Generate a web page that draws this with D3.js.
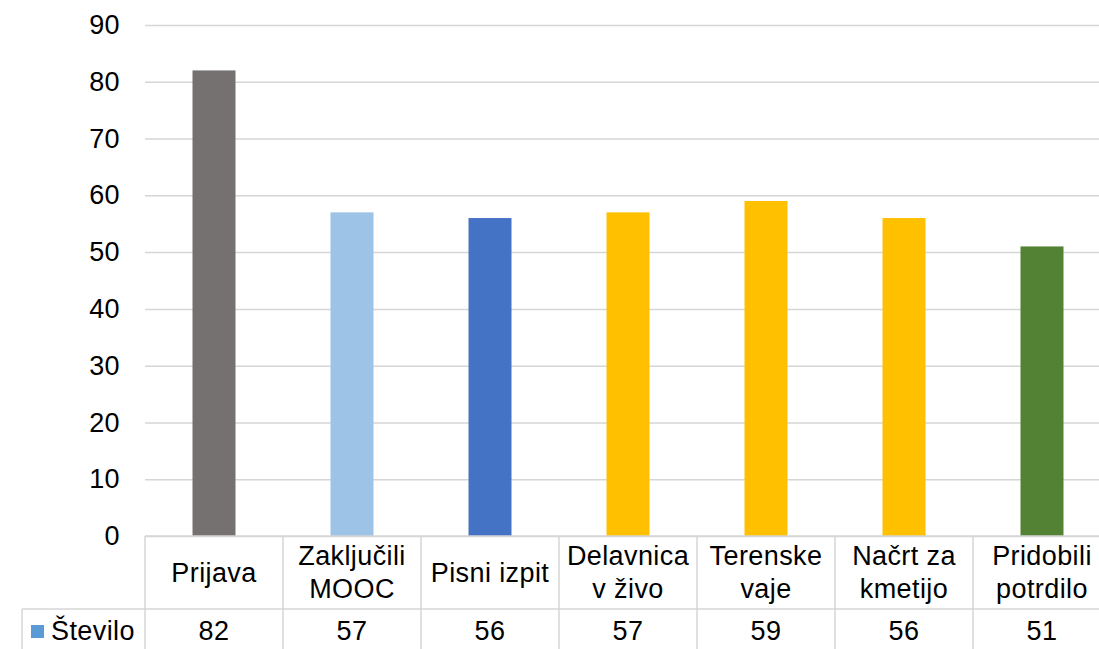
<!DOCTYPE html>
<html>
<head>
<meta charset="utf-8">
<script src="https://cdn.jsdelivr.net/npm/d3@7"></script>
<style>
  html, body { margin: 0; padding: 0; background: #fff; }
  svg { display: block; font-family: "Liberation Sans", Arial, sans-serif; }
</style>
</head>
<body>
<svg id="chart" width="1099" height="649"></svg>
<script>
const categories = ["Prijava", "Zaključili MOOC", "Pisni izpit", "Delavnica v živo", "Terenske vaje", "Načrt za kmetijo", "Pridobili potrdilo"];
const categoryLines = [["Prijava"], ["Zaključili", "MOOC"], ["Pisni izpit"], ["Delavnica", "v živo"], ["Terenske", "vaje"], ["Načrt za", "kmetijo"], ["Pridobili", "potrdilo"]];
const values = [82, 57, 56, 57, 59, 56, 51];
const barColors = ["#767171", "#9DC3E6", "#4472C4", "#FFC000", "#FFC000", "#FFC000", "#548235"];
const seriesName = "Število";
const yTicks = [0, 10, 20, 30, 40, 50, 60, 70, 80, 90];

const svg = d3.select("#chart");
const plotLeft = 145, plotRight = 1111;
const yTop = 25, yZero = 536;
const headerBottom = 609, tableBottom = 660;
const legendLeft = 22;
const gridColor = "#d6d6d6";
const fs = 27;
const ls = "0.4px";

const x = d3.scaleBand().domain(categories).range([plotLeft, plotRight]).paddingInner(0).paddingOuter(0);
const y = d3.scaleLinear().domain([0, 90]).range([yZero, yTop]);

// gridlines
const yAxis = d3.axisLeft(y).tickValues(yTicks).tickSize(-(plotRight - plotLeft)).tickPadding(25).tickFormat(d3.format("d"));
const gy = svg.append("g").attr("transform", `translate(${plotLeft},0)`).call(yAxis);
gy.select(".domain").remove();
gy.selectAll(".tick line").attr("stroke", gridColor).attr("stroke-width", 1.5);
gy.selectAll(".tick text").attr("font-size", fs).attr("fill", "#000").attr("font-family", "Liberation Sans, Arial, sans-serif").attr("letter-spacing", ls);

// bars
const bw = 43;
svg.append("g").selectAll("rect").data(values).join("rect")
  .attr("x", (d, i) => x(categories[i]) + x.bandwidth() / 2 - bw / 2)
  .attr("y", d => y(d))
  .attr("width", bw)
  .attr("height", d => y(0) - y(d))
  .attr("fill", (d, i) => barColors[i]);

// data table
const t = svg.append("g").attr("stroke", gridColor).attr("stroke-width", 1.5);
t.append("line").attr("x1", plotLeft).attr("x2", plotRight).attr("y1", yZero).attr("y2", yZero);
t.append("line").attr("x1", legendLeft).attr("x2", plotRight).attr("y1", headerBottom).attr("y2", headerBottom);
t.append("line").attr("x1", legendLeft).attr("x2", legendLeft).attr("y1", headerBottom).attr("y2", tableBottom);
const bounds = categories.map(c => x(c)).concat([plotRight]);
t.selectAll(".v").data(bounds).join("line")
  .attr("x1", d => d).attr("x2", d => d).attr("y1", yZero).attr("y2", tableBottom);

// header labels
const hdr = svg.append("g").attr("font-size", fs).attr("text-anchor", "middle").attr("fill", "#000").attr("letter-spacing", ls);
categoryLines.forEach((lines, i) => {
  const cx = x(categories[i]) + x.bandwidth() / 2;
  const baselines = lines.length === 1 ? [582] : [565, 598];
  lines.forEach((ln, j) => {
    hdr.append("text").attr("x", cx).attr("y", baselines[j]).text(ln);
  });
});

// values row
svg.append("g").attr("font-size", fs).attr("text-anchor", "middle").attr("fill", "#000").attr("letter-spacing", ls)
  .selectAll("text").data(values).join("text")
  .attr("x", (d, i) => x(categories[i]) + x.bandwidth() / 2)
  .attr("y", 640)
  .text(d => d);

// legend key
svg.append("rect").attr("x", 31).attr("y", 625).attr("width", 13).attr("height", 13).attr("fill", "#5B9BD5");
svg.append("text").attr("x", 51).attr("y", 640).attr("font-size", fs).attr("fill", "#000").attr("letter-spacing", ls).text(seriesName);
</script>
</body>
</html>
